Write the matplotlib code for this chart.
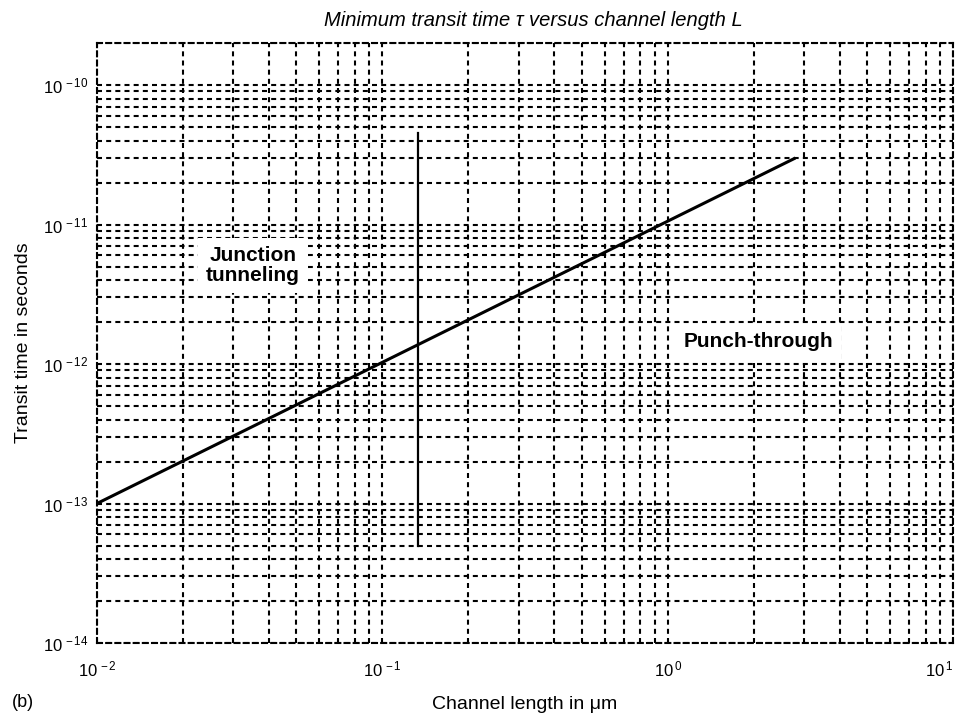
import math
import matplotlib
matplotlib.use("Agg")
import matplotlib.pyplot as plt
from matplotlib.ticker import LogLocator, FixedLocator, FuncFormatter, NullFormatter

# channel length (um) vs minimum transit time (s)
length_um = [0.01, 2.8]
transit_s = [1e-13, 3e-11]

# boundary between junction tunneling and punch-through
boundary_x = [0.133, 0.133]
boundary_y = [5e-14, 4.5e-11]

x_limits = (1e-2, 1e1)
y_limits = (1e-14, 2e-10)
x_majors = [1e-2, 1e-1, 1e0, 1e1]
y_majors = [1e-14, 1e-13, 1e-12, 1e-11, 1e-10]

plt.rcParams['font.family'] = ['Liberation Sans', 'DejaVu Sans']
plt.rcParams['mathtext.fontset'] = 'custom'
plt.rcParams['mathtext.rm'] = 'Liberation Sans'
plt.rcParams['mathtext.it'] = 'Liberation Sans:italic'

fig = plt.figure(figsize=(9.6, 7.22), dpi=100)
ax = fig.add_axes([0.101, 0.1094, 0.892, 0.831])

ax.loglog(length_um, transit_s, color='black', linewidth=2.2, solid_capstyle='butt')
ax.plot(boundary_x, boundary_y, color='black', linewidth=1.6)

ax.set_xlim(*x_limits)
ax.set_ylim(*y_limits)

ax.xaxis.set_major_locator(FixedLocator(x_majors))
ax.yaxis.set_major_locator(FixedLocator(y_majors))
ax.xaxis.set_minor_locator(LogLocator(base=10, subs=range(2, 10), numticks=20))
ax.yaxis.set_minor_locator(LogLocator(base=10, subs=range(2, 10), numticks=20))

def exp_label(v, pos):
    e = int(round(math.log10(v)))
    return r'$10^{\,%d}$' % e if e >= 0 else r'$10^{\,-%d}$' % (-e)

ax.xaxis.set_major_formatter(FuncFormatter(exp_label))
ax.yaxis.set_major_formatter(FuncFormatter(exp_label))
ax.xaxis.set_minor_formatter(NullFormatter())
ax.yaxis.set_minor_formatter(NullFormatter())

dash = (0, (2.4, 2.0))
ax.grid(True, which='both', color='black', linestyle=dash, linewidth=1.5)
for s in ax.spines.values():
    s.set_linestyle(dash)
    s.set_linewidth(1.5)

ax.tick_params(which='both', length=0, labelsize=12)
ax.tick_params(axis='x', pad=12)
ax.tick_params(axis='y', pad=6)

# keep the 10^1 label inside the figure
fig.canvas.draw()
for t in ax.xaxis.get_major_ticks():
    if abs(t.get_loc() - x_limits[1]) < 1e-6:
        t.label1.set_horizontalalignment('right')

ax.set_xlabel('Channel length in \u03bcm', fontsize=14, labelpad=12)
ax.set_ylabel('Transit time in seconds', fontsize=14, labelpad=8)
ax.set_title('Minimum transit time \u03c4 versus channel length L', fontsize=14.5,
             style='italic', pad=12, x=0.51)

ax.text(0.0352, 5.1e-12, 'Junction\ntunneling', fontsize=15, fontweight='bold',
        ha='center', va='center', linespacing=1.05,
        bbox=dict(facecolor='white', edgecolor='none', pad=6))
ax.text(2.07, 1.44e-12, 'Punch-through', fontsize=15, fontweight='bold',
        ha='center', va='center',
        bbox=dict(facecolor='white', edgecolor='none', pad=6))

fig.text(0.012, 0.027, '(b)', fontsize=13, ha='left', va='center')

fig.savefig('out.png', dpi=100)
